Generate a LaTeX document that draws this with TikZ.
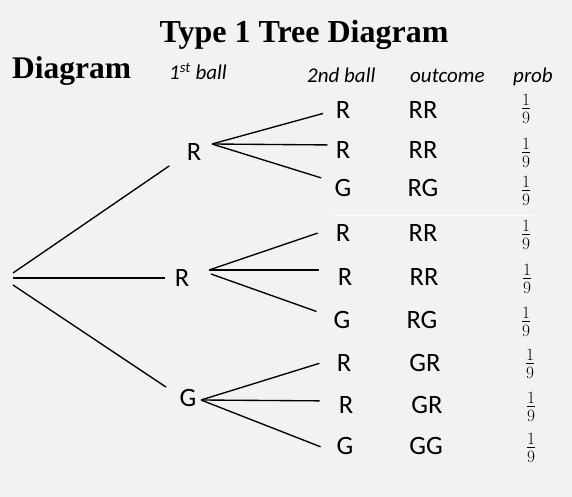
\documentclass[tikz,border=0pt]{standalone}
\usepackage{amsmath}
\usepackage{fontspec}
\setmainfont{Liberation Serif}
\newfontfamily\calib{Carlito}
\usepackage{tikz}
\usetikzlibrary{positioning}
\definecolor{paper}{HTML}{F2F2F2}

\tikzset{
  lbl/.style={inner sep=0pt,font=\calib\fontsize{26.5}{30}\selectfont},
  hdr/.style={inner sep=0pt,anchor=base west,font=\calib\itshape\fontsize{21}{25}\selectfont},
  probfrac/.style={inner sep=0pt,font=\fontsize{26}{30}\selectfont},
  branch/.style={line width=1.35pt,line cap=butt},
}

\begin{document}
\begin{tikzpicture}[x=1pt,y=-1pt]
  \fill[paper] (0,0) rectangle (572,497);
  \useasboundingbox (0,0) rectangle (572,497);
  % titles
  \node[inner sep=0pt,anchor=base,font=\bfseries\fontsize{32}{38}\selectfont] (title) at (304,43) {Type 1 Tree Diagram};
  \node[inner sep=0pt,anchor=base west,font=\bfseries\fontsize{31.5}{38}\selectfont] (side) at (12,79) {Diagram};
  \node[hdr] (h1) at (169,80) {1\textsuperscript{st} ball};
  \node[hdr] (h2) at (307,83) {2nd ball};
  \node[hdr] (h3) at (410,83) {outcome};
  \node[hdr] (h4) at (513,83) {prob};
  \draw[white,line width=0.6pt] (333,215) -- (533,215);

  % first ball
  \coordinate (root) at (13,278);
  \node[lbl] (b1) at (194,152) {R};
  \node[lbl] (b2) at (182,278) {R};
  \node[lbl] (b3) at (188,398) {G};
  \draw[branch,shorten >=21pt] ([yshift=5pt]root) -- ([yshift=-2pt]b1.west);
  \draw[branch,shorten >=10pt] (root) -- (b2.west);
  \draw[branch,shorten >=16pt] ([yshift=-7pt]root) -- ([yshift=2pt]b3.west);

  % second ball
  \coordinate (f1) at (212,144);
  \coordinate (f2) at (209,270);
  \coordinate (f3) at (201,400);
  \node[lbl] (c11) at (343,110) {R};
  \node[lbl] (c12) at (343,150) {R};
  \node[lbl] (c13) at (343,188) {G};
  \node[lbl] (c21) at (343,233) {R};
  \node[lbl] (c22) at (345,277) {R};
  \node[lbl] (c23) at (342,320) {G};
  \node[lbl] (c31) at (344,363) {R};
  \node[lbl] (c32) at (346,405) {R};
  \node[lbl] (c33) at (345,446) {G};
  \draw[branch,shorten >=13pt] (f1) -- (c11.west);
  \draw[branch,shorten >=8pt] (f1) -- ([yshift=5pt]c12.west);
  \draw[branch,shorten >=14pt] (f1) -- ([yshift=6pt]c13.west);
  \draw[branch,shorten >=19pt] (f2) -- ([yshift=6pt]c21.west);
  \draw[branch,shorten >=19pt] (f2) -- ([yshift=7pt]c22.west);
  \draw[branch,shorten >=18pt] ([xshift=2pt,yshift=-4pt]f2) -- ([yshift=2.5pt]c23.west);
  \draw[branch,shorten >=18pt] (f3) -- ([yshift=5pt]c31.west);
  \draw[branch,shorten >=19pt] (f3) -- ([yshift=4pt]c32.west);
  \draw[branch,shorten >=17pt] (f3) -- ([yshift=-7pt]c33.west);

  % outcomes
  \node[lbl] (o11) at (423,110) {RR};
  \node[lbl] (o12) at (423,150) {RR};
  \node[lbl] (o13) at (423,188) {RG};
  \node[lbl] (o21) at (423,233) {RR};
  \node[lbl] (o22) at (424,277) {RR};
  \node[lbl] (o23) at (422,320) {RG};
  \node[lbl] (o31) at (425,363) {GR};
  \node[lbl] (o32) at (427,405) {GR};
  \node[lbl] (o33) at (426,446) {GG};

  % probabilities
  \foreach \px/\py [count=\k] in {526/109,526/153,526/191,526/235,527/279,526/322,530/364,531/407,531/448}
    \node[probfrac] (p\k) at (\px,\py) {$\genfrac{}{}{1pt}{}{1}{9}$};
\end{tikzpicture}
\end{document}
